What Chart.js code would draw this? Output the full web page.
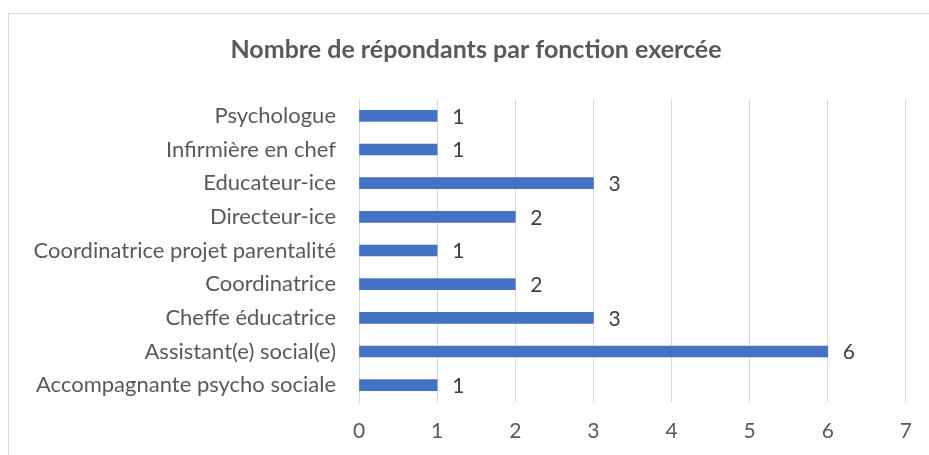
<!DOCTYPE html>
<html>
<head>
<meta charset="utf-8">
<script src="https://cdn.jsdelivr.net/npm/chart.js@4/dist/chart.umd.min.js"></script>
<style>
  html, body { margin: 0; padding: 0; background: #fff; }
  #wrap { position: relative; width: 929px; height: 455px; }
</style>
</head>
<body>
<div id="wrap"><canvas id="fonctionChart" width="929" height="455"></canvas></div>
<script>
const titre = 'Nombre de répondants par fonction exercée'
const fonctions = [
  'Psychologue',
  'Infirmière en chef',
  'Educateur-ice',
  'Directeur-ice',
  'Coordinatrice projet parentalité',
  'Coordinatrice',
  'Cheffe éducatrice',
  'Assistant(e) social(e)',
  'Accompagnante psycho sociale'
]
const repondants = [1, 1, 3, 2, 1, 2, 3, 6, 1]
const xTicks = [0, 1, 2, 3, 4, 5, 6, 7]

const gray = '#595959'
const gridColor = '#d9d9d9'

// cadre gris du graphique + titre centré sur le cadre
const cadre = {
  id: 'cadre',
  beforeDraw(chart) {
    const ctx = chart.ctx
    ctx.save()
    ctx.strokeStyle = gridColor
    ctx.lineWidth = 1
    ctx.strokeRect(8.5, 13.5, 1000, 1000)
    ctx.fillStyle = gray
    ctx.font = 'bold 25px Lato'
    ctx.textAlign = 'center'
    ctx.textBaseline = 'middle'
    ctx.fillText(titre, 476, 50)
    ctx.restore()
  }
}

// étiquettes de valeur à droite des barres
const valeurs = {
  id: 'valeurs',
  afterDatasetsDraw(chart) {
    const ctx = chart.ctx
    const meta = chart.getDatasetMeta(0)
    ctx.save()
    ctx.fillStyle = '#404040'
    ctx.font = '21px Lato'
    ctx.textAlign = 'left'
    ctx.textBaseline = 'middle'
    meta.data.forEach((bar, i) => {
      ctx.fillText(String(repondants[i]), bar.x + 15, bar.y + 1)
    })
    ctx.restore()
  }
}

const data = {
  labels: fonctions,
  datasets: [
    {
      label: 'Nombre de répondants',
      backgroundColor: '#4472C4',
      borderWidth: 0,
      data: repondants,
      barThickness: 11,
    },
  ],
}

const config = {
  type: 'bar',
  data: data,
  plugins: [cadre, valeurs],
  options: {
    indexAxis: 'y',
    responsive: false,
    animation: false,
    layout: { padding: { left: 0, right: 21, top: 99, bottom: 0 } },
    plugins: {
      legend: { display: false },
      tooltip: { enabled: false },
      title: { display: false },
    },
    scales: {
      x: {
        min: 0,
        max: 7,
        afterBuildTicks(scale) {
          scale.ticks = xTicks.map(v => ({ value: v }))
        },
        afterFit(scale) { scale.height = 53 },
        grid: { color: gridColor, drawTicks: false },
        border: { display: false },
        ticks: {
          color: gray,
          font: { family: 'Lato', size: 21 },
          padding: 17,
        },
      },
      y: {
        afterFit(scale) { scale.width = 359 },
        grid: { display: false, drawTicks: false },
        border: { color: gridColor },
        ticks: {
          color: gray,
          font: { family: 'Lato', size: 22 },
          padding: 23,
        },
      },
    },
  },
}

const canvas = document.getElementById('fonctionChart')
const chart = new Chart(canvas, config)
</script>
</body>
</html>
